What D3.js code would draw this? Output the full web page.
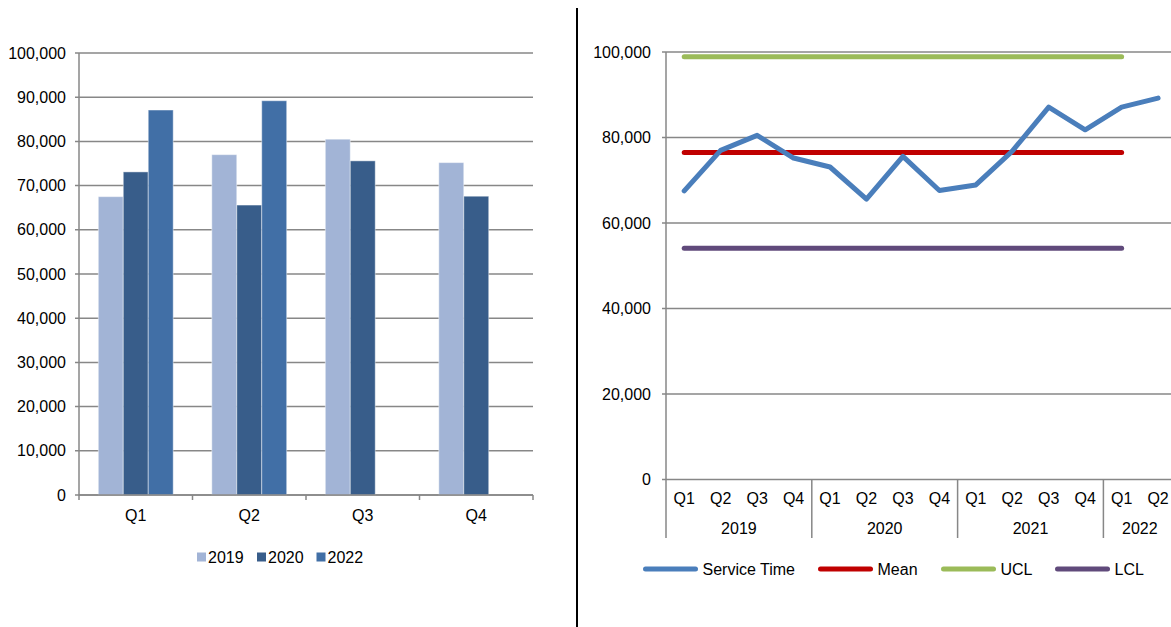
<!DOCTYPE html>
<html>
<head>
<meta charset="utf-8">
<script src="https://cdn.jsdelivr.net/npm/d3@7"></script>
<style>
  html, body { margin: 0; padding: 0; background: #fff; }
  svg { display: block; font-family: "Liberation Sans", Arial, sans-serif; }
</style>
</head>
<body>
<svg id="chart" width="1171" height="627"></svg>
<script>
// Quarterly service time by year (bar chart)
const quarters = ["Q1", "Q2", "Q3", "Q4"];
const barYears = ["2019", "2020", "2022"];
const values2019 = [67500, 77000, 80500, 75200];
const values2020 = [73100, 65600, 75600, 67600];
const values2022 = [87100, 89200, null, null];
const barColors = ["#A2B4D6", "#385D8A", "#416FA6"];
const barTicks = [0, 10000, 20000, 30000, 40000, 50000, 60000, 70000, 80000, 90000, 100000];

// Control chart: quarterly series with mean and control limits
const periodYears = ["2019", "2020", "2021", "2022"];
const periodQuarters = ["Q1","Q2","Q3","Q4","Q1","Q2","Q3","Q4","Q1","Q2","Q3","Q4","Q1","Q2"];
const serviceTime = [67500, 77000, 80500, 75200, 73100, 65600, 75600, 67600, 68900, 76800, 87100, 81800, 87100, 89200];
const meanLine = [76500,76500,76500,76500,76500,76500,76500,76500,76500,76500,76500,76500,76500];
const uclLine  = [98900,98900,98900,98900,98900,98900,98900,98900,98900,98900,98900,98900,98900];
const lclLine  = [54100,54100,54100,54100,54100,54100,54100,54100,54100,54100,54100,54100,54100];
const lineTicks = [0, 20000, 40000, 60000, 80000, 100000];
const lineSeries = [
  { name: "Service Time", values: serviceTime, color: "#4A7EBB" },
  { name: "Mean", values: meanLine, color: "#C00000" },
  { name: "UCL", values: uclLine, color: "#9BBB59" },
  { name: "LCL", values: lclLine, color: "#604A7B" }
];

const svg = d3.select("#chart");
const fmt = d3.format(",");
const gridColor = "#878787";
const fontSize = 16;

// ---------- Bar chart ----------
(function () {
  const left = 79, right = 533, top = 53, bottom = 495;
  const y = d3.scaleLinear().domain([0, 100000]).range([bottom, top]);
  const x0 = d3.scaleBand().domain(quarters).range([left, right]);
  const bw = x0.bandwidth();
  const gap = bw * 0.34;
  const x1 = d3.scaleBand().domain(barYears).range([gap / 2, bw - gap / 2]);
  const seriesByYear = { "2019": values2019, "2020": values2020, "2022": values2022 };
  const color = d3.scaleOrdinal().domain(barYears).range(barColors);

  const g = svg.append("g");

  // horizontal gridlines with small left ticks
  g.selectAll("line.grid").data(barTicks).join("line")
    .attr("x1", left - 4).attr("x2", right)
    .attr("y1", d => y(d)).attr("y2", d => y(d))
    .attr("stroke", gridColor).attr("stroke-width", 1.5);

  // y tick labels
  g.selectAll("text.ylab").data(barTicks).join("text")
    .attr("x", left - 13).attr("y", d => y(d))
    .attr("dy", "0.35em").attr("text-anchor", "end")
    .attr("font-size", fontSize).attr("fill", "#000")
    .text(d => fmt(d));

  // bars
  const groups = g.selectAll("g.q").data(quarters).join("g")
    .attr("transform", d => `translate(${x0(d)},0)`);
  groups.selectAll("rect").data((q, i) => barYears
      .map(yr => ({ yr, v: seriesByYear[yr][i] }))
      .filter(d => d.v != null))
    .join("rect")
    .attr("x", d => x1(d.yr))
    .attr("width", x1.bandwidth())
    .attr("y", d => y(d.v))
    .attr("height", d => y(0) - y(d.v))
    .attr("fill", d => color(d.yr))
    .attr("stroke", "rgba(255,255,255,0.45)")
    .attr("stroke-width", 1);

  // axes
  g.append("line").attr("x1", left).attr("x2", left).attr("y1", top).attr("y2", bottom)
    .attr("stroke", gridColor).attr("stroke-width", 1.5);
  g.append("line").attr("x1", left).attr("x2", right).attr("y1", bottom).attr("y2", bottom)
    .attr("stroke", gridColor).attr("stroke-width", 1.5);
  const bounds = quarters.map(q => x0(q)).concat([right]);
  g.selectAll("line.xt").data(bounds).join("line")
    .attr("x1", d => d).attr("x2", d => d)
    .attr("y1", bottom).attr("y2", bottom + 5)
    .attr("stroke", gridColor).attr("stroke-width", 1.5);

  // category labels
  g.selectAll("text.xlab").data(quarters).join("text")
    .attr("x", d => x0(d) + bw / 2).attr("y", 515).attr("dy", "0.35em")
    .attr("text-anchor", "middle").attr("font-size", fontSize)
    .text(d => d);

  // legend
  const legendX = [197, 257, 316.5];
  const lg = g.selectAll("g.leg").data(barYears).join("g")
    .attr("transform", (d, i) => `translate(${legendX[i]},557)`);
  lg.append("rect").attr("x", 0).attr("y", -4.5).attr("width", 9).attr("height", 9)
    .attr("fill", d => color(d));
  lg.append("text").attr("x", 11).attr("dy", "0.35em")
    .attr("font-size", fontSize).text(d => d);
})();

// ---------- Divider ----------
svg.append("line").attr("x1", 577).attr("x2", 577).attr("y1", 8).attr("y2", 627)
  .attr("stroke", "#000").attr("stroke-width", 2);

// ---------- Control chart ----------
(function () {
  const left = 666, top = 52, bottom = 479.5, step = 36.45;
  const right = left + step * periodQuarters.length;
  const svgW = 1171;
  const y = d3.scaleLinear().domain([0, 100000]).range([bottom, top]);
  const x = d3.scaleBand().domain(d3.range(periodQuarters.length)).range([left, right]);
  const cx = i => x(i) + x.bandwidth() / 2;

  const g = svg.append("g");

  g.selectAll("line.grid").data(lineTicks).join("line")
    .attr("x1", left - 4).attr("x2", svgW)
    .attr("y1", d => y(d)).attr("y2", d => y(d))
    .attr("stroke", gridColor).attr("stroke-width", 1.5);

  g.selectAll("text.ylab").data(lineTicks).join("text")
    .attr("x", left - 15).attr("y", d => y(d))
    .attr("dy", "0.35em").attr("text-anchor", "end")
    .attr("font-size", fontSize).text(d => fmt(d));

  // axis frame and year separators
  const axisBottom = 538;
  g.append("line").attr("x1", left).attr("x2", left).attr("y1", top).attr("y2", axisBottom)
    .attr("stroke", gridColor).attr("stroke-width", 1.5);
  const seps = [4, 8, 12].map(i => x(i));
  g.selectAll("line.sep").data(seps).join("line")
    .attr("x1", d => d).attr("x2", d => d).attr("y1", bottom).attr("y2", axisBottom)
    .attr("stroke", gridColor).attr("stroke-width", 1.5);

  // quarter labels
  g.selectAll("text.q").data(periodQuarters).join("text")
    .attr("x", (d, i) => cx(i)).attr("y", 498).attr("dy", "0.35em")
    .attr("text-anchor", "middle").attr("font-size", fontSize).text(d => d);

  // year labels, centered over their quarters
  const yearSpans = periodYears.map((yr, k) => {
    const idx = periodQuarters.map((q, i) => i).filter(i => Math.floor(i / 4) === k);
    return { yr, mid: (x(idx[0]) + x(idx[idx.length - 1]) + x.bandwidth()) / 2 };
  });
  g.selectAll("text.yr").data(yearSpans).join("text")
    .attr("x", d => d.mid).attr("y", 528).attr("dy", "0.35em")
    .attr("text-anchor", "middle").attr("font-size", fontSize).text(d => d.yr);

  // series lines (control lines first, service time on top)
  const line = d3.line().x((d, i) => cx(i)).y(d => y(d));
  const order = [lineSeries[2], lineSeries[3], lineSeries[1], lineSeries[0]];
  g.selectAll("path.series").data(order).join("path")
    .attr("d", d => line(d.values))
    .attr("fill", "none").attr("stroke", d => d.color)
    .attr("stroke-width", 5).attr("stroke-linecap", "round").attr("stroke-linejoin", "round");

  // legend
  const legendX = [643, 818, 941, 1055];
  const lg = g.selectAll("g.leg").data(lineSeries).join("g")
    .attr("transform", (d, i) => `translate(${legendX[i]},569)`);
  lg.append("line").attr("x1", 2.5).attr("x2", 52.5).attr("y1", 0).attr("y2", 0)
    .attr("stroke", d => d.color).attr("stroke-width", 5).attr("stroke-linecap", "round");
  lg.append("text").attr("x", 59.5).attr("dy", "0.35em")
    .attr("font-size", fontSize).text(d => d.name);
})();
</script>
</body>
</html>
